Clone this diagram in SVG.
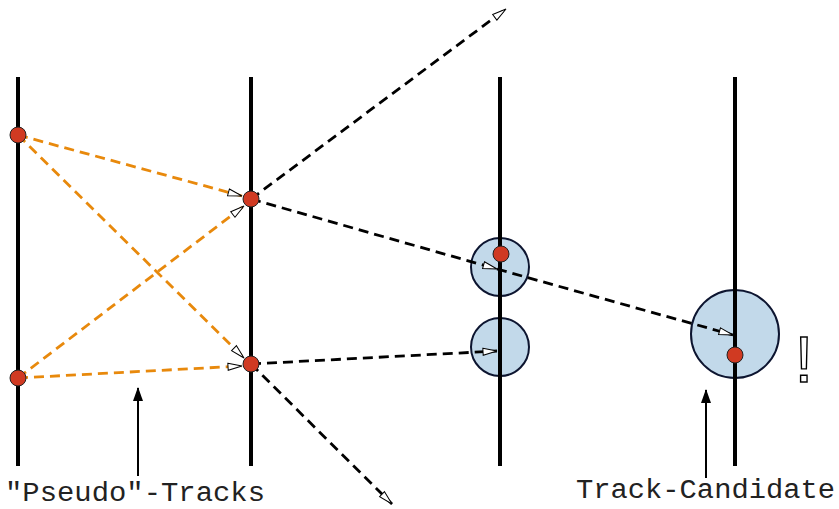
<svg xmlns="http://www.w3.org/2000/svg" width="839" height="509" viewBox="0 0 839 509">
<style>
.layer{stroke:#000;stroke-width:4;fill:none}
.hit{fill:#d03a22;stroke:#222;stroke-width:1}
.win{fill:#c2d9ea;stroke:#0d1530;stroke-width:2}
.org{stroke:#e8890c;stroke-width:2.8;stroke-dasharray:10,6;fill:none;marker-end:url(#open)}
.blk{stroke:#000;stroke-width:2.8;stroke-dasharray:10,6;fill:none;marker-end:url(#open)}
.lbl{font-family:"Liberation Mono","Courier New",monospace;font-size:27px;fill:#222}
.ptr{stroke:#000;stroke-width:2;fill:none;marker-end:url(#solid)}
</style>
<defs>
<marker id="open" viewBox="0 0 16 10" refX="15" refY="5" markerWidth="16" markerHeight="10" markerUnits="userSpaceOnUse" orient="auto">
<path d="M1,1.5 L15,5 L1,8.5 Z" fill="#fff" stroke="#000" stroke-width="1"/>
</marker>
<marker id="solid" viewBox="0 0 14 10" refX="13" refY="5" markerWidth="14" markerHeight="10" markerUnits="userSpaceOnUse" orient="auto">
<path d="M0,0 L14,5 L0,10 Z" fill="#000"/>
</marker>
</defs>
<g id="layers">
<line class="layer" x1="18" y1="77" x2="18" y2="466"/>
<line class="layer" x1="251" y1="77" x2="251" y2="466"/>
<line class="layer" x1="500" y1="77" x2="500" y2="466"/>
<line class="layer" x1="735" y1="77" x2="735" y2="466"/>
</g>
<g id="windows">
<circle class="win" cx="500" cy="267" r="29"/>
<circle class="win" cx="500" cy="347" r="29"/>
<circle class="win" cx="735" cy="334" r="44" stroke-width="3"/>
<line class="layer" x1="500" y1="237" x2="500" y2="377"/>
<line class="layer" x1="735" y1="289" x2="735" y2="379"/>
</g>
<g id="connectors">
<line class="org" x1="18" y1="135" x2="242" y2="196"/>
<line class="org" x1="18" y1="135" x2="244" y2="358"/>
<line class="org" x1="18" y1="378" x2="244" y2="206"/>
<line class="org" x1="18" y1="378" x2="242" y2="366"/>
<line class="blk" x1="251" y1="199" x2="506" y2="9"/>
<line class="blk" x1="251" y1="199" x2="497" y2="269"/>
<line class="blk" x1="497" y1="269" x2="733" y2="335"/>
<line class="blk" x1="251" y1="364" x2="497" y2="351"/>
<line class="blk" x1="251" y1="364" x2="392" y2="504"/>
</g>
<g id="hits">
<circle class="hit" cx="18" cy="135" r="8"/>
<circle class="hit" cx="18" cy="378" r="8"/>
<circle class="hit" cx="251" cy="199" r="8"/>
<circle class="hit" cx="251" cy="364" r="8"/>
<circle class="hit" cx="501" cy="254" r="8"/>
<circle class="hit" cx="735" cy="355" r="8"/>
</g>
<g id="pseudo-label">
<line class="ptr" x1="138" y1="476" x2="138" y2="388"/>
<text class="lbl" x="5" y="501" textLength="260" lengthAdjust="spacingAndGlyphs">"Pseudo"-Tracks</text>
</g>
<g id="candidate-label">
<line class="ptr" x1="706" y1="478" x2="706" y2="390"/>
<text class="lbl" x="576" y="498" textLength="259" lengthAdjust="spacingAndGlyphs">Track-Candidate</text>
</g>
<text x="804" y="382" font-family="Liberation Mono, monospace" font-size="68" fill="#fff" stroke="#000" stroke-width="1.4" text-anchor="middle">!</text>
</svg>
